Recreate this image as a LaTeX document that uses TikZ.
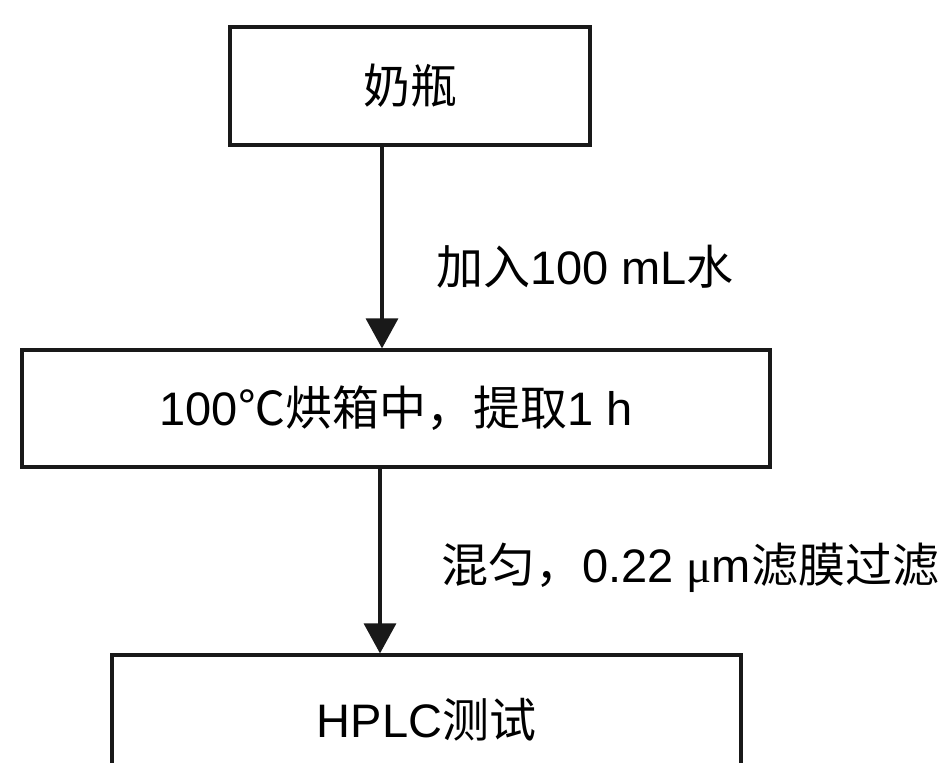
\documentclass[tikz,border=0pt]{standalone}
\usepackage{fontspec}
\setmainfont{Liberation Sans}
\newfontfamily\cjk{Noto Sans CJK SC}
\newfontfamily\lser{Liberation Serif}
\usetikzlibrary{arrows.meta}
\tikzset{
  box/.style={draw=black!90, line width=3.2pt, inner sep=0pt, font=\fontsize{47}{56}\selectfont},
  arr/.style={line width=3.2pt, draw=black!90, -{Triangle[width=32pt,length=30pt]}},
  lbl/.style={anchor=west, inner sep=0pt, font=\fontsize{47}{56}\selectfont}
}
\begin{document}
\begin{tikzpicture}[x=1pt,y=-1pt]
\useasboundingbox (0,0) rectangle (943,763);
\clip (0,0) rectangle (943,763);
\fill[white] (0,0) rectangle (943,763);
\node[box, minimum width=360pt, minimum height=118pt] (b1) at (410,86) {\cjk 奶瓶};
\node[box, minimum width=748pt, minimum height=117pt] (b2) at (396,408.5) {100{\cjk ℃烘箱中，提取}1 h};
\node[box, minimum width=629pt, minimum height=130pt] (b3) at (426.5,720) {HPLC{\cjk 测试}};
\coordinate (a1) at (382,0);
\coordinate (a2) at (380,0);
\draw[arr] (a1 |- b1.south) -- (a1 |- b2.north);
\draw[arr] (a2 |- b2.south) -- (a2 |- b3.north);
\node[lbl] (l1) at (436,267) {{\cjk 加入}100 mL{\cjk 水}};
\node[lbl] (l2) at (441,568) {{\cjk 混匀，}0.22 {\lser μ}m{\cjk 滤膜过滤}};
\end{tikzpicture}
\end{document}
